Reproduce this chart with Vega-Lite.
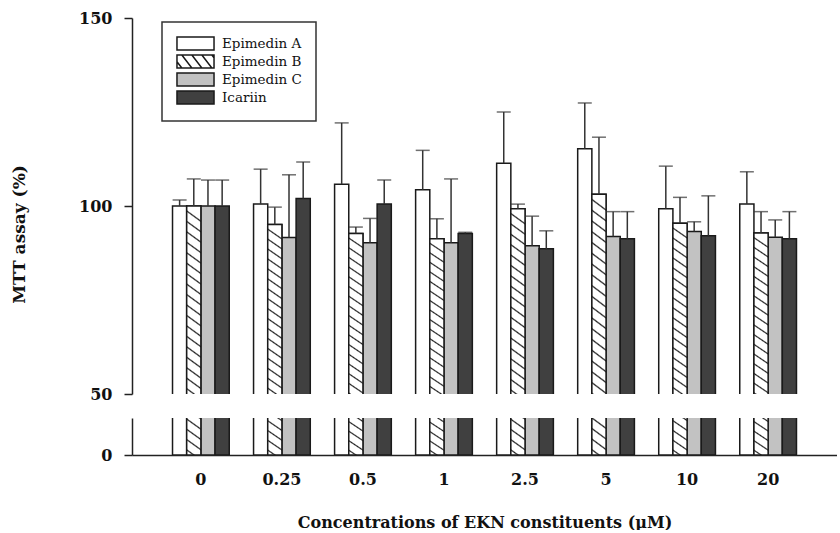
{
  "$schema": "https://vega.github.io/schema/vega-lite/v6.json",
  "padding": {"left": 10, "top": 10, "right": 0, "bottom": 0},
  "background": "white",
  "config": {
    "view": {"stroke": null},
    "font": "DejaVu Serif",
    "axis": {"grid": false, "domainColor": "#222", "domainWidth": 1.5, "tickColor": "#222", "tickWidth": 1.5, "labelFont": "DejaVu Serif", "labelFontWeight": "bold", "labelFontSize": 16, "labelColor": "#111", "titleFont": "DejaVu Serif", "titleFontWeight": "bold", "titleFontSize": 16, "titleColor": "#111"},
    "legend": {"labelFont": "DejaVu Serif", "strokeWidth": 1.5}
  },
  "datasets": {
    "d": [
      {"conc": "0", "compound": "Epimedin A", "mean": 100, "upper": 101.6},
      {"conc": "0", "compound": "Epimedin B", "mean": 100, "upper": 107.2},
      {"conc": "0", "compound": "Epimedin C", "mean": 100, "upper": 106.9},
      {"conc": "0", "compound": "Icariin", "mean": 100, "upper": 106.9},
      {"conc": "0.25", "compound": "Epimedin A", "mean": 100.5, "upper": 109.8},
      {"conc": "0.25", "compound": "Epimedin B", "mean": 95.1, "upper": 99.7},
      {"conc": "0.25", "compound": "Epimedin C", "mean": 91.6, "upper": 108.3},
      {"conc": "0.25", "compound": "Icariin", "mean": 102.0, "upper": 111.7},
      {"conc": "0.5", "compound": "Epimedin A", "mean": 105.8, "upper": 122.1},
      {"conc": "0.5", "compound": "Epimedin B", "mean": 92.7, "upper": 94.4},
      {"conc": "0.5", "compound": "Epimedin C", "mean": 90.2, "upper": 96.7},
      {"conc": "0.5", "compound": "Icariin", "mean": 100.5, "upper": 106.9},
      {"conc": "1", "compound": "Epimedin A", "mean": 104.3, "upper": 114.8},
      {"conc": "1", "compound": "Epimedin B", "mean": 91.3, "upper": 96.6},
      {"conc": "1", "compound": "Epimedin C", "mean": 90.2, "upper": 107.2},
      {"conc": "1", "compound": "Icariin", "mean": 92.7, "upper": 93.0},
      {"conc": "2.5", "compound": "Epimedin A", "mean": 111.4, "upper": 125.0},
      {"conc": "2.5", "compound": "Epimedin B", "mean": 99.3, "upper": 100.5},
      {"conc": "2.5", "compound": "Epimedin C", "mean": 89.4, "upper": 97.3},
      {"conc": "2.5", "compound": "Icariin", "mean": 88.6, "upper": 93.4},
      {"conc": "5", "compound": "Epimedin A", "mean": 115.2, "upper": 127.4},
      {"conc": "5", "compound": "Epimedin B", "mean": 103.1, "upper": 118.3},
      {"conc": "5", "compound": "Epimedin C", "mean": 91.9, "upper": 98.5},
      {"conc": "5", "compound": "Icariin", "mean": 91.3, "upper": 98.5},
      {"conc": "10", "compound": "Epimedin A", "mean": 99.3, "upper": 110.6},
      {"conc": "10", "compound": "Epimedin B", "mean": 95.4, "upper": 102.3},
      {"conc": "10", "compound": "Epimedin C", "mean": 93.2, "upper": 95.8},
      {"conc": "10", "compound": "Icariin", "mean": 92.1, "upper": 102.7},
      {"conc": "20", "compound": "Epimedin A", "mean": 100.5, "upper": 109.1},
      {"conc": "20", "compound": "Epimedin B", "mean": 92.8, "upper": 98.5},
      {"conc": "20", "compound": "Epimedin C", "mean": 91.7, "upper": 96.3},
      {"conc": "20", "compound": "Icariin", "mean": 91.3, "upper": 98.5}
    ]
  },
  "spacing": 24,
  "bounds": "flush",
  "resolve": {"scale": {"fill": "independent", "shape": "independent", "y": "independent"}, "legend": {"fill": "independent", "shape": "independent"}},
  "vconcat": [
    {
      "width": 705,
      "height": 376,
      "data": {"name": "d"},
      "encoding": {
        "x": {"field": "conc", "type": "nominal", "sort": ["0", "0.25", "0.5", "1", "2.5", "5", "10", "20"], "scale": {"paddingInner": 0.3, "paddingOuter": 0.5}, "axis": null},
        "xOffset": {"field": "compound", "type": "nominal", "sort": ["Epimedin A", "Epimedin B", "Epimedin C", "Icariin"], "scale": {"paddingInner": 0, "paddingOuter": 0}}
      },
      "layer": [
        {
          "mark": {"type": "bar", "clip": true, "stroke": "#1a1a1a", "strokeWidth": 1.5},
          "encoding": {
            "y": {"field": "mean", "type": "quantitative", "title": "MTT assay (%)", "scale": {"domain": [50, 150], "zero": false, "nice": false}, "axis": {"values": [50, 100, 150], "tickSize": 8, "labelPadding": 12, "titlePadding": 50, "titleY": 216, "titleFontSize": 17}},
            "y2": {"datum": 0},
            "fill": {"field": "compound", "type": "nominal", "scale": {"domain": ["Epimedin A", "Epimedin B", "Epimedin C", "Icariin"], "range": ["#ffffff", "#ffffff", "#c2c2c2", "#404040"]},
              "legend": {"title": null, "orient": "none", "legendX": 30, "legendY": 4, "strokeColor": "#333", "padding": 14, "symbolSize": 169, "symbolOffset": 12, "symbolStrokeWidth": 1.5, "symbolOpacity": 1, "labelFont": "DejaVu Serif", "labelFontSize": 13.5, "labelFontWeight": "normal", "labelColor": "#111", "labelOffset": 19, "rowPadding": -1}
            }
          }
        },
        {
          "transform": [{"filter": "datum.compound === 'Epimedin B'"}],
          "mark": {"type": "bar", "clip": true, "stroke": "#1a1a1a", "strokeWidth": 1.5,
            "fill": {"gradient": "linear", "x1": 0.0275, "y1": 0, "x2": 0, "y2": 1, "stops": [
              {"offset": 0, "color": "#fff"},
              {"offset": 0.0099, "color": "#fff"}, {"offset": 0.0139, "color": "#222"}, {"offset": 0.0179, "color": "#fff"},
              {"offset": 0.0377, "color": "#fff"}, {"offset": 0.0417, "color": "#222"}, {"offset": 0.0457, "color": "#fff"},
              {"offset": 0.0654, "color": "#fff"}, {"offset": 0.0694, "color": "#222"}, {"offset": 0.0734, "color": "#fff"},
              {"offset": 0.0932, "color": "#fff"}, {"offset": 0.0972, "color": "#222"}, {"offset": 0.1012, "color": "#fff"},
              {"offset": 0.121, "color": "#fff"}, {"offset": 0.125, "color": "#222"}, {"offset": 0.129, "color": "#fff"},
              {"offset": 0.1488, "color": "#fff"}, {"offset": 0.1528, "color": "#222"}, {"offset": 0.1568, "color": "#fff"},
              {"offset": 0.1766, "color": "#fff"}, {"offset": 0.1806, "color": "#222"}, {"offset": 0.1846, "color": "#fff"},
              {"offset": 0.2043, "color": "#fff"}, {"offset": 0.2083, "color": "#222"}, {"offset": 0.2123, "color": "#fff"},
              {"offset": 0.2321, "color": "#fff"}, {"offset": 0.2361, "color": "#222"}, {"offset": 0.2401, "color": "#fff"},
              {"offset": 0.2599, "color": "#fff"}, {"offset": 0.2639, "color": "#222"}, {"offset": 0.2679, "color": "#fff"},
              {"offset": 0.2877, "color": "#fff"}, {"offset": 0.2917, "color": "#222"}, {"offset": 0.2957, "color": "#fff"},
              {"offset": 0.3154, "color": "#fff"}, {"offset": 0.3194, "color": "#222"}, {"offset": 0.3234, "color": "#fff"},
              {"offset": 0.3432, "color": "#fff"}, {"offset": 0.3472, "color": "#222"}, {"offset": 0.3512, "color": "#fff"},
              {"offset": 0.371, "color": "#fff"}, {"offset": 0.375, "color": "#222"}, {"offset": 0.379, "color": "#fff"},
              {"offset": 0.3988, "color": "#fff"}, {"offset": 0.4028, "color": "#222"}, {"offset": 0.4068, "color": "#fff"},
              {"offset": 0.4266, "color": "#fff"}, {"offset": 0.4306, "color": "#222"}, {"offset": 0.4346, "color": "#fff"},
              {"offset": 0.4543, "color": "#fff"}, {"offset": 0.4583, "color": "#222"}, {"offset": 0.4623, "color": "#fff"},
              {"offset": 0.4821, "color": "#fff"}, {"offset": 0.4861, "color": "#222"}, {"offset": 0.4901, "color": "#fff"},
              {"offset": 0.5099, "color": "#fff"}, {"offset": 0.5139, "color": "#222"}, {"offset": 0.5179, "color": "#fff"},
              {"offset": 0.5377, "color": "#fff"}, {"offset": 0.5417, "color": "#222"}, {"offset": 0.5457, "color": "#fff"},
              {"offset": 0.871, "color": "#fff"}, {"offset": 0.875, "color": "#222"}, {"offset": 0.879, "color": "#fff"},
              {"offset": 0.8988, "color": "#fff"}, {"offset": 0.9028, "color": "#222"}, {"offset": 0.9068, "color": "#fff"},
              {"offset": 0.9266, "color": "#fff"}, {"offset": 0.9306, "color": "#222"}, {"offset": 0.9346, "color": "#fff"},
              {"offset": 0.9543, "color": "#fff"}, {"offset": 0.9583, "color": "#222"}, {"offset": 0.9623, "color": "#fff"},
              {"offset": 0.9821, "color": "#fff"}, {"offset": 0.9861, "color": "#222"}, {"offset": 0.9901, "color": "#fff"},
              {"offset": 1, "color": "#fff"}
            ]}},
          "encoding": {
            "y": {"field": "mean", "type": "quantitative", "title": "MTT assay (%)", "scale": {"domain": [50, 150], "zero": false, "nice": false}},
            "y2": {"datum": 0}
          }
        },
        {
          "mark": {"type": "rule", "clip": true, "color": "#333", "strokeWidth": 1.5},
          "encoding": {
            "y": {"field": "mean", "type": "quantitative", "title": "MTT assay (%)", "scale": {"domain": [50, 150], "zero": false, "nice": false}},
            "y2": {"field": "upper"}
          }
        },
        {
          "mark": {"type": "tick", "color": "#333", "thickness": 1.5, "size": 14},
          "encoding": {
            "y": {"field": "upper", "type": "quantitative", "title": "MTT assay (%)", "scale": {"domain": [50, 150], "zero": false, "nice": false}}
          }
        },
        {
          "mark": {"type": "point", "filled": true, "opacity": 0, "stroke": "#222", "clip": true},
          "encoding": {
            "y": {"field": "mean", "type": "quantitative", "title": "MTT assay (%)", "scale": {"domain": [50, 150], "zero": false, "nice": false}},
            "fill": {"field": "compound", "type": "nominal",
              "legend": {"title": null, "orient": "none", "legendX": 30, "legendY": 4, "strokeColor": "#333", "padding": 14, "symbolSize": 169, "symbolOffset": 12, "symbolStrokeWidth": 1.5, "symbolOpacity": 1, "labelFont": "DejaVu Serif", "labelFontSize": 13.5, "labelFontWeight": "normal", "labelColor": "#111", "labelOffset": 19, "rowPadding": -1}},
            "shape": {"field": "compound", "type": "nominal",
              "scale": {"domain": ["Epimedin A", "Epimedin B", "Epimedin C", "Icariin"], "range": [
                "M-2.85,-1H2.85V1H-2.85Z",
                "M-2.85,-1H2.85V1H-2.85ZM-2.85,0.03L-2.1,1M-2.1,-1L-0.56,1M-0.56,-1L0.98,1M0.98,-1L2.52,1M2.52,-1L2.85,-0.57",
                "M-2.85,-1H2.85V1H-2.85Z",
                "M-2.85,-1H2.85V1H-2.85Z"
              ]},
              "legend": {"title": null, "orient": "none", "legendX": 30, "legendY": 4, "strokeColor": "#333", "padding": 14, "symbolSize": 169, "symbolOffset": 12, "symbolStrokeWidth": 1.5, "symbolOpacity": 1, "labelFont": "DejaVu Serif", "labelFontSize": 13.5, "labelFontWeight": "normal", "labelColor": "#111", "labelOffset": 19, "rowPadding": -1}}
          }
        }
      ]
    },
    {
      "width": 705,
      "height": 37,
      "data": {"name": "d"},
      "encoding": {
        "x": {"field": "conc", "type": "nominal", "sort": ["0", "0.25", "0.5", "1", "2.5", "5", "10", "20"], "scale": {"paddingInner": 0.3, "paddingOuter": 0.5}, "title": "Concentrations of EKN constituents (μM)", "axis": {"labelAngle": 0, "ticks": false, "labelPadding": 16, "titlePadding": 27}},
        "xOffset": {"field": "compound", "type": "nominal", "sort": ["Epimedin A", "Epimedin B", "Epimedin C", "Icariin"], "scale": {"paddingInner": 0, "paddingOuter": 0}}
      },
      "layer": [
        {
          "mark": {"type": "bar", "clip": true, "stroke": "#1a1a1a", "strokeWidth": 1.5},
          "encoding": {
            "y": {"field": "mean", "type": "quantitative", "title": null, "scale": {"domain": [0, 10], "nice": false}, "axis": {"values": [0], "tickSize": 8, "labelPadding": 12, "title": null}},
            "y2": {"datum": 0},
            "fill": {"field": "compound", "type": "nominal", "scale": {"domain": ["Epimedin A", "Epimedin B", "Epimedin C", "Icariin"], "range": ["#ffffff", "#ffffff", "#c2c2c2", "#404040"]}, "legend": null}
          }
        },
        {
          "transform": [{"filter": "datum.compound === 'Epimedin B'"}],
          "mark": {"type": "bar", "clip": true, "stroke": "#1a1a1a", "strokeWidth": 1.5,
            "fill": {"gradient": "linear", "x1": 0.0275, "y1": 0, "x2": 0, "y2": 1, "stops": [
              {"offset": 0, "color": "#fff"},
              {"offset": 0.871, "color": "#fff"}, {"offset": 0.875, "color": "#222"}, {"offset": 0.879, "color": "#fff"},
              {"offset": 0.8988, "color": "#fff"}, {"offset": 0.9028, "color": "#222"}, {"offset": 0.9068, "color": "#fff"},
              {"offset": 0.9266, "color": "#fff"}, {"offset": 0.9306, "color": "#222"}, {"offset": 0.9346, "color": "#fff"},
              {"offset": 0.9543, "color": "#fff"}, {"offset": 0.9583, "color": "#222"}, {"offset": 0.9623, "color": "#fff"},
              {"offset": 0.9821, "color": "#fff"}, {"offset": 0.9861, "color": "#222"}, {"offset": 0.9901, "color": "#fff"},
              {"offset": 1, "color": "#fff"}
            ]}},
          "encoding": {
            "y": {"field": "mean", "type": "quantitative", "title": null, "scale": {"domain": [0, 10], "nice": false}},
            "y2": {"datum": 0}
          }
        }
      ]
    }
  ]
}
